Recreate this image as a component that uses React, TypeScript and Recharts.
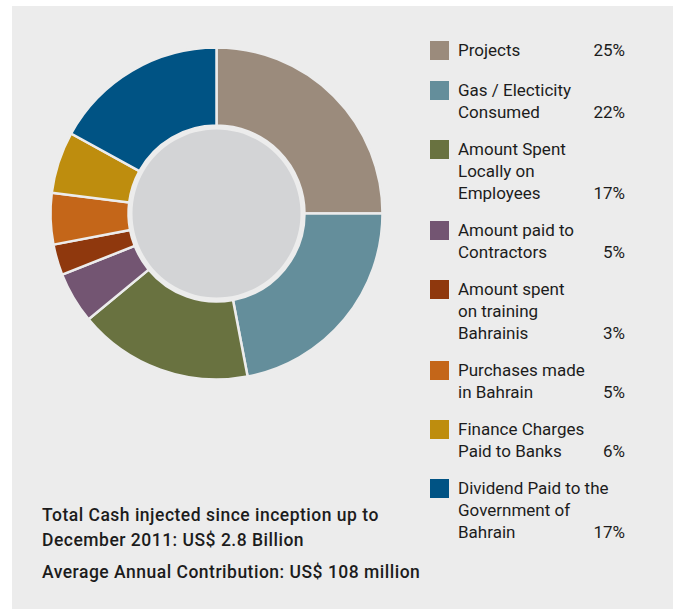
import { PieChart, Pie, Cell } from "recharts";

const categories = [
  ["Projects"],
  ["Gas / Electicity", "Consumed"],
  ["Amount Spent", "Locally on", "Employees"],
  ["Amount paid to", "Contractors"],
  ["Amount spent", "on training", "Bahrainis"],
  ["Purchases made", "in Bahrain"],
  ["Finance Charges", "Paid to Banks"],
  ["Dividend Paid to the", "Government of", "Bahrain"],
];

const shares = [25, 22, 17, 5, 3, 5, 6, 17];

const colors = [
  "#9b8b7c",
  "#648e9b",
  "#697240",
  "#735572",
  "#8f380d",
  "#c46619",
  "#be8d0e",
  "#005384",
];

const notes = [
  ["Total Cash injected since inception up to", "December 2011: US$ 2.8 Billion"],
  ["Average Annual Contribution: US$ 108 million"],
];

const PANEL = "#ececec";
const INK = "#1c1c1c";
const FONT = "Roboto, 'Noto Sans', sans-serif";

const data = categories.map((lines, i) => ({
  name: lines.join(" "),
  value: shares[i],
}));

function Legend() {
  return (
    <div style={{ position: "absolute", left: 418, top: 33, width: 195, fontSize: 17 }}>
      {categories.map((lines, i) => (
        <div
          key={i}
          style={{
            position: "relative",
            marginBottom: i === 0 ? 18 : 15,
            paddingLeft: 28,
          }}
        >
          <div
            style={{
              position: "absolute",
              left: 0,
              top: 2,
              width: 19,
              height: 19,
              background: colors[i],
            }}
          />
          {lines.map((line, j) => (
            <div
              key={j}
              style={{
                height: 22,
                lineHeight: "22px",
                display: "flex",
                justifyContent: "space-between",
                whiteSpace: "nowrap",
              }}
            >
              <span>{line}</span>
              {j === lines.length - 1 && <span>{shares[i]}%</span>}
            </div>
          ))}
        </div>
      ))}
    </div>
  );
}

export default function App() {
  return (
    <div
      style={{
        position: "fixed",
        left: 0,
        top: 0,
        width: 678,
        height: 609,
        background: "#ffffff",
        fontFamily: FONT,
        color: INK,
      }}
    >
      <div
        style={{
          position: "absolute",
          left: 12,
          top: 6,
          width: 661,
          height: 603,
          background: PANEL,
        }}
      >
        <PieChart
          width={400}
          height={420}
          margin={{ top: 0, right: 0, bottom: 0, left: 0 }}
          style={{ position: "absolute", left: 0, top: 0 }}
        >
          <Pie
            data={data}
            dataKey="value"
            nameKey="name"
            cx={204.5}
            cy={207.5}
            innerRadius={88}
            outerRadius={166}
            startAngle={90}
            endAngle={-270}
            stroke={PANEL}
            strokeWidth={2.5}
            isAnimationActive={false}
          >
            {data.map((d, i) => (
              <Cell key={d.name} fill={colors[i]} />
            ))}
          </Pie>
          <Pie
            data={[{ name: "center", value: 1 }]}
            dataKey="value"
            cx={204.5}
            cy={207.5}
            innerRadius={0}
            outerRadius={84}
            fill="#d3d4d6"
            stroke="none"
            isAnimationActive={false}
          />
        </PieChart>
        <Legend />
        <div
          style={{
            position: "absolute",
            left: 30,
            top: 497,
            fontWeight: 500,
            fontSize: 17.5,
            letterSpacing: 0.5,
            whiteSpace: "nowrap",
          }}
        >
          {notes.map((block, i) => (
            <div key={i} style={{ marginBottom: i === 0 ? 7 : 0 }}>
              {block.map((line, j) => (
                <div key={j} style={{ height: 25, lineHeight: "25px" }}>
                  {line}
                </div>
              ))}
            </div>
          ))}
        </div>
      </div>
    </div>
  );
}
